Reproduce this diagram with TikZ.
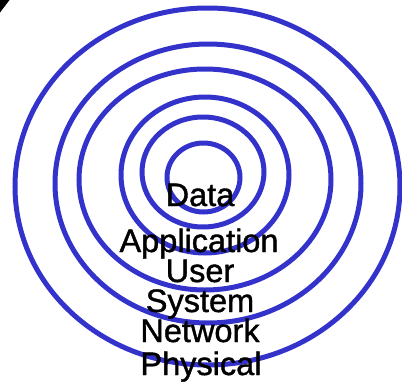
\documentclass[tikz,border=0pt]{standalone}
\usepackage{fontspec}
\setmainfont{Liberation Sans}
\newfontfamily\lblfont[FakeBold=1.2]{Liberation Sans}
\definecolor{ringblue}{RGB}{51,51,204}
\begin{document}
\begin{tikzpicture}[x=1pt,y=-1pt,
  ring/.style={draw=ringblue, line width=5pt},
  lbl/.style={font=\lblfont\fontsize{32.5}{32.5}\selectfont, anchor=base, inner sep=0pt, text=black}]
\useasboundingbox (0,0) rectangle (402,386);
\fill[black] (0,0) -- (9.5,0) -- (0,12.5) -- cycle;
\draw[ring] (207.5,186.5) ellipse [x radius=192.5, y radius=178.5];
\draw[ring] (208,183.5) ellipse [x radius=153, y radius=139.5];
\draw[ring] (205,179.5) ellipse [x radius=126, y radius=110.5];
\draw[ring] (205,175) ellipse [x radius=84, y radius=78];
\draw[ring] (203,172) ellipse [x radius=61, y radius=55];
\draw[ring] (203.5,177.5) ellipse [x radius=36.5, y radius=34.5];
\node[lbl] (data) at (200,206) {Data};
\node[lbl] (application) at (199,252) {Application};
\node[lbl] (user) at (200,282) {User};
\node[lbl] (system) at (200,312) {System};
\node[lbl] (network) at (200,342) {Network};
\node[lbl] (physical) at (201,375) {Physical};
\end{tikzpicture}
\end{document}
